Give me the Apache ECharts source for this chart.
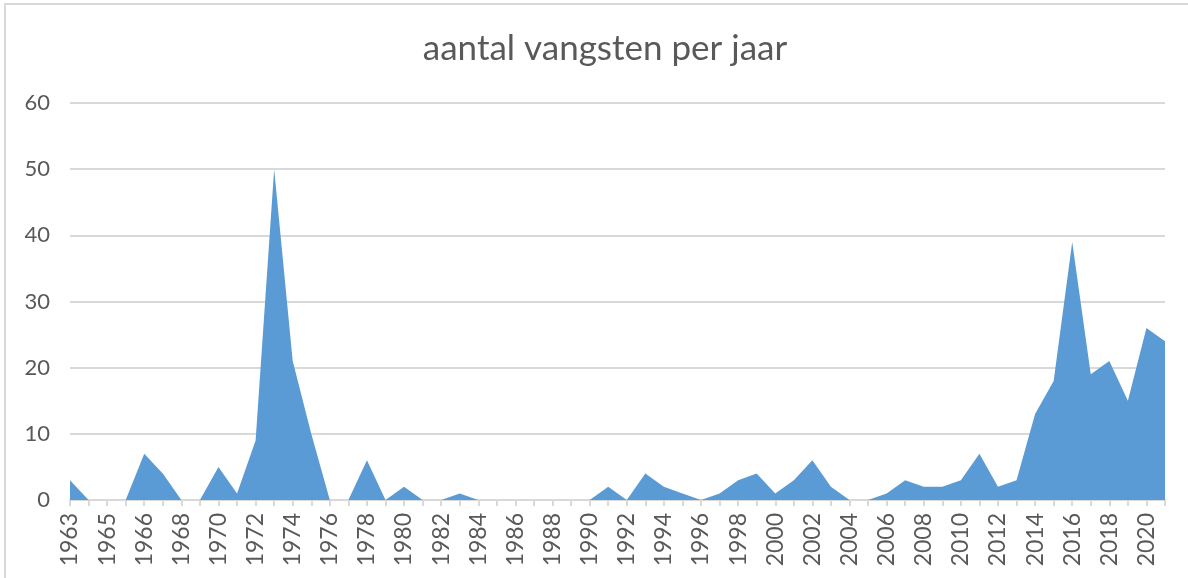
<!DOCTYPE html>
<html>
<head>
<meta charset="utf-8">
<script src="https://cdn.jsdelivr.net/npm/echarts@6/dist/echarts.min.js"></script>
<style>
    html, body { margin: 0; padding: 0; background: #fff; }
    #chart { width: 1188px; height: 578px; }
</style>
</head>
<body>
<div id="chart"></div>
<script>
// jaren zoals ze op de as staan (1965 komt twee keer voor in de bron)
const years = ['1963', '1964', '1965', '1965',
    '1966', '1967', '1968', '1969', '1970', '1971', '1972', '1973', '1974', '1975',
    '1976', '1977', '1978', '1979', '1980', '1981', '1982', '1983', '1984', '1985',
    '1986', '1987', '1988', '1989', '1990', '1991', '1992', '1993', '1994', '1995',
    '1996', '1997', '1998', '1999', '2000', '2001', '2002', '2003', '2004', '2005',
    '2006', '2007', '2008', '2009', '2010', '2011', '2012', '2013', '2014', '2015',
    '2016', '2017', '2018', '2019', '2020', '2021'];

// aantal vangsten per jaar
const catches = [3, 0, 0, 0,
    7, 4, 0, 0, 5, 1, 9, 50, 21, 10,
    0, 0, 6, 0, 2, 0, 0, 1, 0, 0,
    0, 0, 0, 0, 0, 2, 0, 4, 2, 1,
    0, 1, 3, 4, 1, 3, 6, 2, 0, 0,
    1, 3, 2, 2, 3, 7, 2, 3, 13, 18,
    39, 19, 21, 15, 26, 24];

const yMin = 0;
const yMax = 60;
const yStep = 10;

const chart = echarts.init(document.getElementById('chart'));

const grey = '#d9d9d9';
const textGrey = '#595959';

chart.setOption({
    animation: false,
    title: {
        text: 'aantal vangsten per jaar',
        left: 600,
        top: 26,
        textAlign: 'center',
        textStyle: {
            color: textGrey,
            fontFamily: 'Lato',
            fontWeight: 'normal',
            fontSize: 35
        }
    },
    graphic: [{
        type: 'rect',
        shape: { x: 5, y: 4, width: 1200, height: 600 },
        style: { fill: 'none', stroke: grey, lineWidth: 2 },
        silent: true
    }],
    grid: {
        left: 70,
        right: 23,
        top: 103,
        bottom: 78
    },
    xAxis: {
        type: 'category',
        boundaryGap: false,
        data: years,
        axisLine: { lineStyle: { color: grey, width: 2 } },
        axisTick: { show: true, interval: 0, length: 6, lineStyle: { color: grey, width: 2 } },
        axisLabel: {
            interval: 1,
            rotate: 90,
            margin: 13,
            color: textGrey,
            fontFamily: 'Lato',
            fontSize: 23
        }
    },
    yAxis: {
        type: 'value',
        min: yMin,
        max: yMax,
        interval: yStep,
        axisLine: { show: false },
        axisTick: { show: false },
        axisLabel: {
            margin: 20,
            color: textGrey,
            fontFamily: 'Lato',
            fontSize: 22
        },
        splitLine: { lineStyle: { color: grey, width: 2 } }
    },
    series: [{
        type: 'line',
        data: catches,
        symbol: 'none',
        lineStyle: { width: 0 },
        itemStyle: { color: '#5b9bd5' },
        areaStyle: { color: '#5b9bd5', opacity: 1 }
    }]
});
</script>
</body>
</html>
